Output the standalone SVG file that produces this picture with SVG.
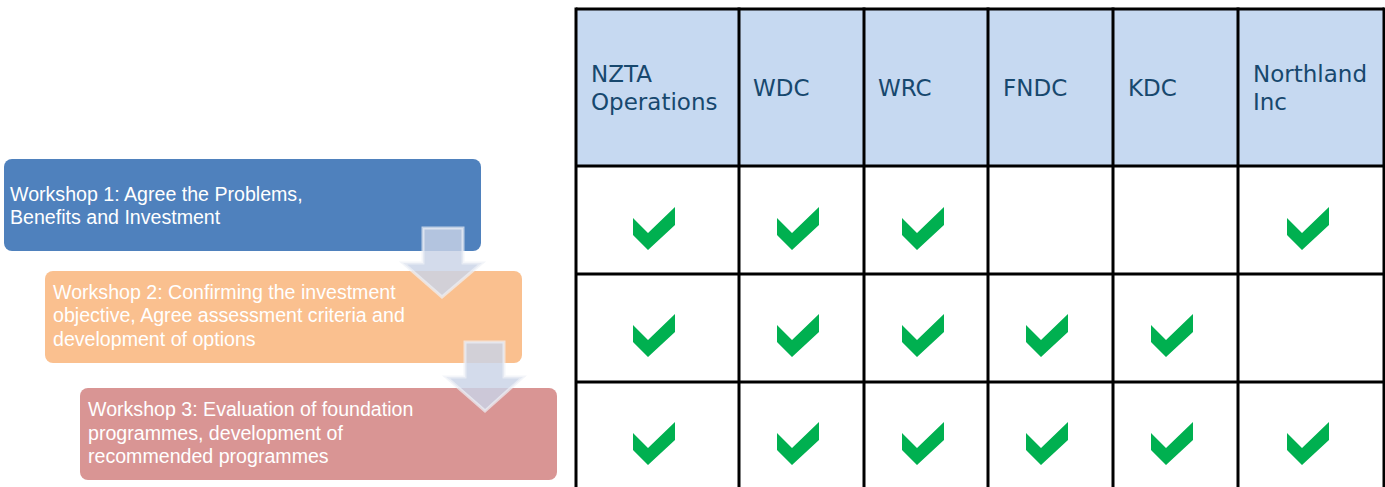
<svg xmlns="http://www.w3.org/2000/svg" width="1385" height="487" viewBox="0 0 1385 487">
<style>
.wtxt{font-family:"Liberation Sans",Arial,sans-serif;font-size:19.6px;fill:#ffffff}
.htxt{font-family:"DejaVu Sans",Verdana,sans-serif;font-size:23px;fill:#17486E}
.grid{stroke:#000;stroke-width:3;fill:none}
.chk{fill:#00B050}
.arr{fill:#C9D3E6;fill-opacity:0.82;stroke:#EEF1F7;stroke-opacity:0.7;stroke-width:3}
</style>
<defs>
<path id="check" d="M0,11 L15,26 L42,0 L42,18 L15,43 L0,28 Z"/>
</defs>
<rect width="1385" height="487" fill="#ffffff"/>

<g id="workshop1">
<rect x="4" y="159" width="477" height="92" rx="8" fill="#4F81BD"/>
<text class="wtxt" x="10" y="201">Workshop 1: Agree the Problems,</text>
<text class="wtxt" x="10" y="224">Benefits and Investment</text>
</g>
<g id="workshop2">
<rect x="45" y="271" width="477" height="92" rx="8" fill="#FAC08F"/>
<text class="wtxt" x="53" y="299">Workshop 2: Confirming the investment</text>
<text class="wtxt" x="53" y="322">objective, Agree assessment criteria and</text>
<text class="wtxt" x="53" y="346">development of options</text>
</g>
<g id="workshop3">
<rect x="80" y="388" width="477" height="92" rx="8" fill="#D99594"/>
<text class="wtxt" x="88" y="416">Workshop 3: Evaluation of foundation</text>
<text class="wtxt" x="88" y="440">programmes, development of</text>
<text class="wtxt" x="88" y="463">recommended programmes</text>
</g>

<g id="connectors">
<path class="arr" d="M423,228 L463,228 L463,263 L482,263 L442,297 L403,263 L423,263 Z"/>
<path class="arr" d="M465,342 L504,342 L504,377 L523,377 L485,411 L446,377 L465,377 Z"/>
</g>

<g id="table">
<rect x="576" y="9" width="808" height="157" fill="#C6D9F1"/>
<g class="grid">
<line x1="576" y1="9" x2="1384" y2="9"/>
<line x1="576" y1="166" x2="1384" y2="166"/>
<line x1="576" y1="274" x2="1384" y2="274"/>
<line x1="576" y1="382" x2="1384" y2="382"/>
<line x1="576" y1="7.5" x2="576" y2="490"/>
<line x1="739" y1="7.5" x2="739" y2="490"/>
<line x1="864" y1="7.5" x2="864" y2="490"/>
<line x1="988" y1="7.5" x2="988" y2="490"/>
<line x1="1113" y1="7.5" x2="1113" y2="490"/>
<line x1="1238" y1="7.5" x2="1238" y2="490"/>
<line x1="1384" y1="7.5" x2="1384" y2="490"/>
</g>
<text class="htxt" x="591" y="82">NZTA</text>
<text class="htxt" x="591" y="110">Operations</text>
<text class="htxt" x="753" y="96">WDC</text>
<text class="htxt" x="878" y="96">WRC</text>
<text class="htxt" x="1003" y="96">FNDC</text>
<text class="htxt" x="1128" y="96">KDC</text>
<text class="htxt" x="1253" y="82">Northland</text>
<text class="htxt" x="1253" y="110">Inc</text>
</g>

<g id="checks" class="chk">
<use href="#check" x="633" y="207"/>
<use href="#check" x="777" y="207"/>
<use href="#check" x="902" y="207"/>
<use href="#check" x="1287" y="207"/>
<use href="#check" x="633" y="314"/>
<use href="#check" x="777" y="314"/>
<use href="#check" x="902" y="314"/>
<use href="#check" x="1026" y="314"/>
<use href="#check" x="1151" y="314"/>
<use href="#check" x="633" y="422"/>
<use href="#check" x="777" y="422"/>
<use href="#check" x="902" y="422"/>
<use href="#check" x="1026" y="422"/>
<use href="#check" x="1151" y="422"/>
<use href="#check" x="1287" y="422"/>
</g>
</svg>
